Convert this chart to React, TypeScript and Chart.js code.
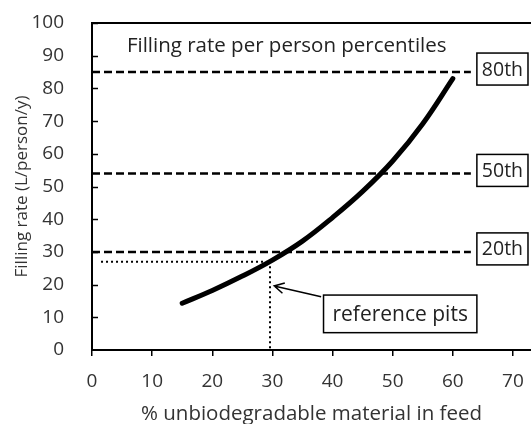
import { useEffect, useRef } from 'react';
import { Chart, registerables } from 'chart.js';

Chart.register(...registerables);

// ---- data ----
const unbiodegradablePct = [15, 20, 25, 30, 35, 40, 45, 50, 55, 60];
const fillingRate = [14.3, 18.2, 22.6, 27.5, 33.3, 40.5, 48.5, 57.8, 69.2, 83];
const percentileValues = [85, 54, 30];
const percentileLabels = ['80th', '50th', '20th'];
const xTickValues = [0, 10, 20, 30, 40, 50, 60, 70];
const yTickValues = [0, 10, 20, 30, 40, 50, 60, 70, 80, 90, 100];
const referencePoint = [29.6, 27];
const chartTitle = 'Filling rate per person percentiles';
const xAxisTitle = '% unbiodegradable material in feed';
const yAxisTitle = 'Filling rate (L/person/y)';
const referenceLabel = 'reference pits';

const FONT = "'Open Sans', sans-serif";
const TEXT = '#333333';

const annotationPlugin = {
  id: 'annotations',
  afterDatasetsDraw(chart: any) {
    const { ctx, chartArea } = chart;
    const xs = chart.scales.x;
    const ys = chart.scales.y;
    ctx.save();
    // top border
    ctx.strokeStyle = '#000';
    ctx.lineWidth = 2;
    ctx.beginPath();
    ctx.moveTo(chartArea.left - 1, chartArea.top);
    ctx.lineTo(chartArea.right, chartArea.top);
    ctx.stroke();
    // inward y ticks
    ctx.lineWidth = 1.5;
    yTickValues.forEach((v) => {
      if (v === 0) return;
      const py = Math.round(ys.getPixelForValue(v)) + 0.5;
      ctx.beginPath();
      ctx.moveTo(chartArea.left, py);
      ctx.lineTo(chartArea.left + 6, py);
      ctx.stroke();
    });
    // title
    ctx.fillStyle = '#222';
    ctx.font = `20.5px ${FONT}`;
    ctx.textAlign = 'left';
    ctx.textBaseline = 'middle';
    ctx.fillText(chartTitle, xs.getPixelForValue(5.8), ys.getPixelForValue(93));
    // percentile boxes
    ctx.font = `19.5px ${FONT}`;
    ctx.textAlign = 'center';
    percentileValues.forEach((v, i) => {
      const x0 = xs.getPixelForValue(64);
      const x1 = xs.getPixelForValue(72.5);
      const cy = ys.getPixelForValue(v) - 3;
      ctx.fillStyle = '#fff';
      ctx.fillRect(x0, cy - 16, x1 - x0, 32);
      ctx.strokeStyle = '#000';
      ctx.lineWidth = 1.5;
      ctx.strokeRect(x0, cy - 16, x1 - x0, 32);
      ctx.fillStyle = '#222';
      ctx.fillText(percentileLabels[i], (x0 + x1) / 2, cy + 1);
    });
    // reference pits box
    const bx0 = xs.getPixelForValue(38.5);
    const bx1 = xs.getPixelForValue(64);
    const by0 = ys.getPixelForValue(16.8);
    const by1 = ys.getPixelForValue(5.3);
    ctx.fillStyle = '#fff';
    ctx.fillRect(bx0, by0, bx1 - bx0, by1 - by0);
    ctx.strokeStyle = '#000';
    ctx.lineWidth = 1.5;
    ctx.strokeRect(bx0, by0, bx1 - bx0, by1 - by0);
    ctx.fillStyle = '#222';
    ctx.font = `21px ${FONT}`;
    ctx.fillText(referenceLabel, (bx0 + bx1) / 2, (by0 + by1) / 2 + 1);
    // arrow
    const ax0 = xs.getPixelForValue(38.1);
    const ay0 = ys.getPixelForValue(16.3);
    const ax1 = xs.getPixelForValue(referencePoint[0] + 0.7);
    const ay1 = ys.getPixelForValue(19.6);
    ctx.beginPath();
    ctx.moveTo(ax0, ay0);
    ctx.lineTo(ax1, ay1);
    const ang = Math.atan2(ay0 - ay1, ax0 - ax1);
    const hl = 11;
    ctx.moveTo(ax1 + hl * Math.cos(ang - 0.5), ay1 + hl * Math.sin(ang - 0.5));
    ctx.lineTo(ax1, ay1);
    ctx.lineTo(ax1 + hl * Math.cos(ang + 0.5), ay1 + hl * Math.sin(ang + 0.5));
    ctx.stroke();
    ctx.restore();
  },
};

export default function App() {
  const ref = useRef<HTMLCanvasElement | null>(null);
  useEffect(() => {
    if (!ref.current) return;
    const dashedSets = percentileValues.map((v) => ({
      data: [
        { x: 0, y: v },
        { x: 63, y: v },
      ],
      borderColor: '#000',
      borderWidth: 2.5,
      borderDash: [8, 4],
      pointRadius: 0,
      order: 2,
    }));
    const chart = new Chart(ref.current, {
      type: 'line',
      data: {
        datasets: [
          {
            data: unbiodegradablePct.map((x, i) => ({ x, y: fillingRate[i] })),
            borderColor: '#000',
            borderWidth: 5,
            pointRadius: 0,
            tension: 0.4,
            borderCapStyle: 'round',
            order: 1,
          },
          ...dashedSets,
          {
            data: [
              { x: 1.5, y: referencePoint[1] },
              { x: referencePoint[0] - 0.6, y: referencePoint[1] },
            ],
            borderColor: '#000',
            borderWidth: 2,
            borderDash: [2, 3],
            pointRadius: 0,
            order: 3,
          },
          {
            data: [
              { x: referencePoint[0], y: referencePoint[1] - 1.4 },
              { x: referencePoint[0], y: 0.5 },
            ],
            borderColor: '#000',
            borderWidth: 2,
            borderDash: [2, 3],
            pointRadius: 0,
            order: 3,
          },
        ] as any,
      },
      options: {
        animation: false,
        responsive: false,
        events: [],
        layout: { padding: { top: 23, left: 0, right: 0, bottom: 0 } },
        plugins: { legend: { display: false }, tooltip: { enabled: false } },
        scales: {
          x: {
            type: 'linear',
            min: 0,
            max: 73,
            afterBuildTicks: (s: any) => {
              s.ticks = xTickValues.map((v) => ({ value: v }));
            },
            afterFit: (s: any) => {
              s.height = 74;
              s.paddingLeft = 0;
              s.paddingRight = 0;
            },
            grid: {
              display: true,
              drawOnChartArea: false,
              drawTicks: true,
              tickLength: 6,
              color: '#000',
              lineWidth: 1.5,
            },
            border: { display: true, color: '#000', width: 2 },
            ticks: {
              color: TEXT,
              font: { family: FONT, size: 19 },
              padding: 14,
              maxRotation: 0,
              autoSkip: false,
            },
            title: {
              display: true,
              text: xAxisTitle,
              color: TEXT,
              font: { family: FONT, size: 20.5, lineHeight: 1.0 },
              padding: { top: 0, bottom: 0 },
            },
          },
          y: {
            type: 'linear',
            min: 0,
            max: 100,
            afterBuildTicks: (s: any) => {
              s.ticks = yTickValues.map((v) => ({ value: v }));
            },
            afterFit: (s: any) => {
              s.width = 92;
              s.paddingTop = 0;
              s.paddingBottom = 0;
            },
            grid: { display: false },
            border: { display: true, color: '#000', width: 2 },
            ticks: {
              color: TEXT,
              font: { family: FONT, size: 19 },
              padding: 20,
              autoSkip: false,
            },
            title: {
              display: true,
              text: yAxisTitle,
              color: TEXT,
              font: { family: FONT, size: 17, lineHeight: 1.0 },
              padding: { top: 14, bottom: 0 },
            },
          },
        },
      } as any,
      plugins: [annotationPlugin],
    });
    return () => chart.destroy();
  }, []);
  return (
    <div style={{ position: 'absolute', left: 0, top: 0, width: 531, height: 424, background: '#fff' }}>
      <canvas ref={ref} width={531} height={424} />
    </div>
  );
}
